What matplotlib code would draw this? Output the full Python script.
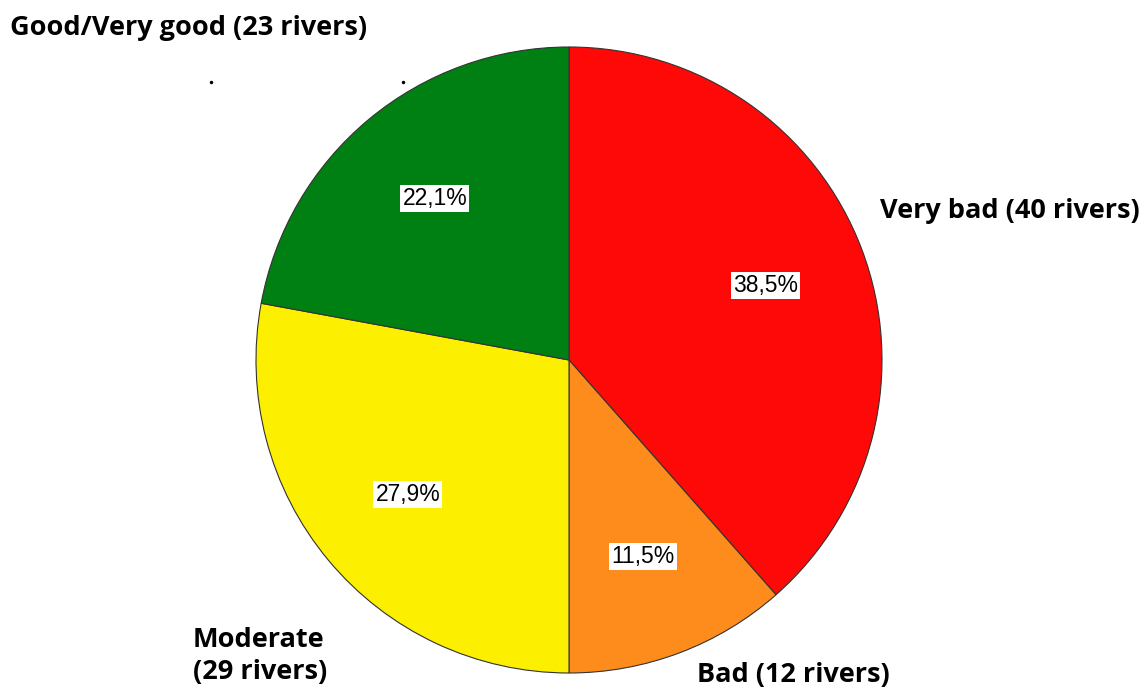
import matplotlib
matplotlib.use("Agg")
import matplotlib.pyplot as plt
from matplotlib.lines import Line2D

categories = ["Very bad", "Bad", "Moderate", "Good/Very good"]
rivers = [40, 12, 29, 23]
percents = [38.5, 11.5, 27.9, 22.1]
colors = ["#fe0808", "#fe8c1c", "#fcf000", "#007f12"]
outer_labels = ["Very bad (40 rivers)", "Bad (12 rivers)", "Moderate\n(29 rivers)", "Good/Very good (23 rivers)"]

W, H = 1142, 692
fig = plt.figure(figsize=(W / 100, H / 100), dpi=100)
cx, cy, r = 569, 360, 313
ax = fig.add_axes([(cx - r) / W, (H - cy - r) / H, 2 * r / W, 2 * r / H])

wedges, texts, autotexts = ax.pie(
    percents, colors=colors, startangle=90, counterclock=False, radius=1,
    autopct=lambda p: f"{p:.1f}".replace(".", ","), pctdistance=0.67,
    wedgeprops=dict(edgecolor="#333333", linewidth=0.8), frame=False)
for t in autotexts:
    t.set_text(t.get_text() + "%")
    t.set_fontfamily("Liberation Sans")
    t.set_fontsize(16.5)
    t.set_color("black")
    t.set_bbox(dict(facecolor="white", edgecolor="none", pad=1.5))
ax.set_xlim(-1, 1)
ax.set_ylim(-1, 1)
ax.set_aspect("equal")
ax.axis("off")

def px(x, y):
    return x / W, 1 - y / H

lab_font = dict(family="Open Sans", fontweight="bold", fontsize=19.5, color="black")
pos = [(880, 211), (697, 675), (193, 656), (10, 28)]
for lab, (x, y) in zip(outer_labels, pos):
    fig.text(*px(x, y), lab, ha="left", va="center", linespacing=1.3, **lab_font)

for x, y in [(211, 82), (403, 82)]:
    fig.add_artist(Line2D([x / W], [1 - y / H], marker="o", markersize=1.5,
                          color="black", transform=fig.transFigure))

fig.savefig("out.png", dpi=100, facecolor="white")
